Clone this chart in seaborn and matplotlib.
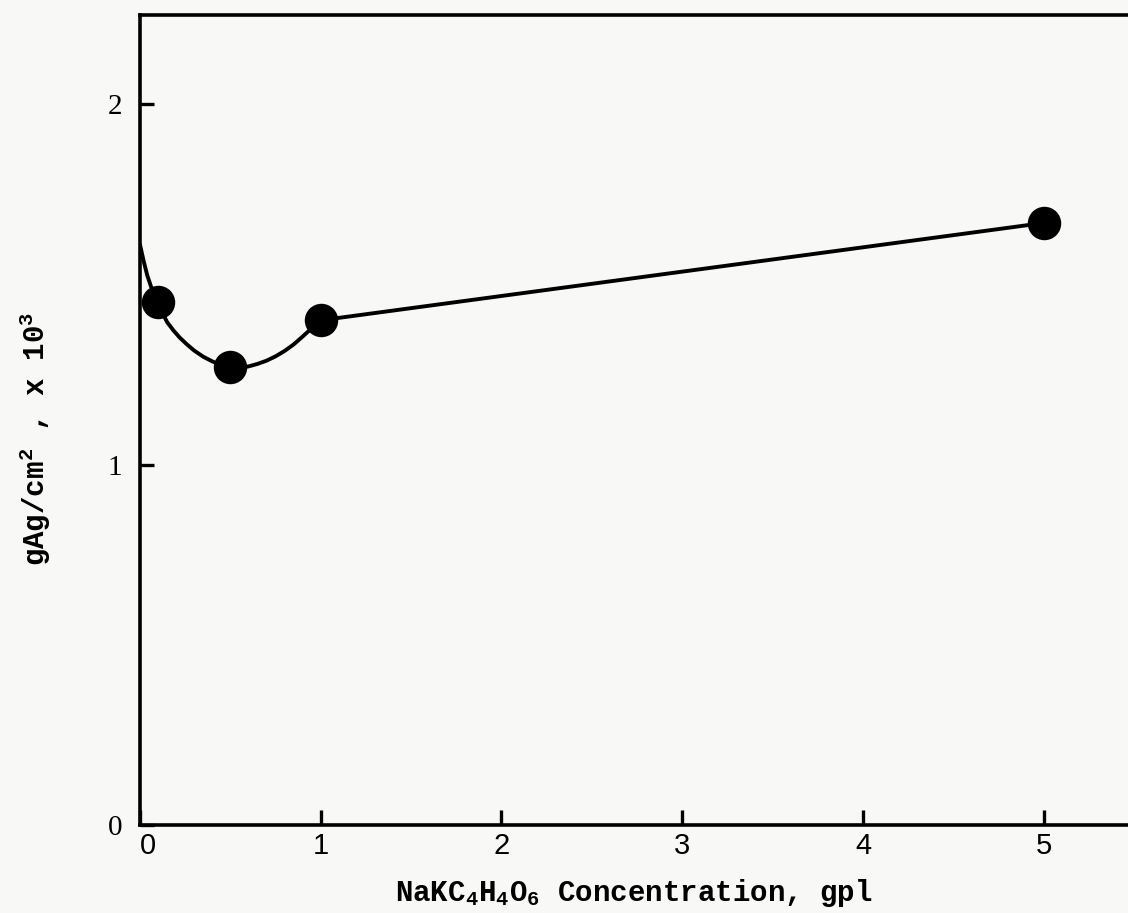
import matplotlib
matplotlib.use("Agg")
import matplotlib.pyplot as plt
import matplotlib.transforms as mtransforms
import seaborn as sns
import pandas as pd

# Measured points: NaKC4H4O6 concentration (gpl) vs silver deposit (g/cm^2 x 10^3)
conc = [0.1, 0.5, 1.0, 5.0]
deposit = [1.45, 1.27, 1.40, 1.67]

# Hand-drawn trend curve through the measurements
curve_conc = [0.0, 0.02, 0.04, 0.06, 0.08, 0.1, 0.125, 0.15, 0.185, 0.22, 0.26, 0.3,
              0.35, 0.4, 0.45, 0.5, 0.55, 0.6, 0.65, 0.7, 0.75, 0.8, 0.85, 0.9, 0.95,
              1.0, 5.0]
curve_dep = [1.61, 1.565, 1.525, 1.495, 1.47, 1.45, 1.42, 1.395, 1.372, 1.352, 1.333,
             1.316, 1.299, 1.286, 1.276, 1.27, 1.269, 1.272, 1.279, 1.288, 1.30, 1.315,
             1.333, 1.355, 1.378, 1.40, 1.67]

x_ticks = [0, 1, 2, 3, 4, 5]
y_ticks = [0, 1, 2]

sns.set_theme(style="ticks")
plt.rcParams["font.family"] = ["Liberation Mono", "DejaVu Sans"]
plt.rcParams["mathtext.default"] = "regular"

bg = "#f8f8f7"
fig = plt.figure(figsize=(11.28, 9.13), dpi=100, facecolor=bg)
ax = fig.add_axes([0.1241, 0.0964, 0.8759, 0.8872])
ax.set_facecolor(bg)

pts = pd.DataFrame({"conc": conc, "deposit": deposit})
crv = pd.DataFrame({"conc": curve_conc, "deposit": curve_dep})

sns.lineplot(data=crv, x="conc", y="deposit", sort=False, color="black",
             linewidth=2.8, ax=ax, zorder=2)
sns.scatterplot(data=pts, x="conc", y="deposit", color="black", s=580,
                edgecolor="black", linewidth=0, ax=ax, zorder=3)

ax.set_xlim(0, 5.466)
ax.set_ylim(0, 2.247)
ax.set_xticks(x_ticks)
ax.set_yticks(y_ticks)
ax.set_xticklabels([str(t) for t in x_ticks], family="Liberation Sans", fontsize=21)
ax.set_yticklabels([str(t) for t in y_ticks], family="Liberation Serif", fontsize=21)
ax.tick_params(axis="x", direction="in", length=11, width=2.4, pad=5, colors="black")
ax.tick_params(axis="y", direction="in", length=10, width=2.4, pad=13, colors="black")

# the zero label on the x axis sits slightly right of its tick
xl0 = ax.get_xticklabels()[0]
xl0.set_transform(xl0.get_transform() + mtransforms.ScaledTranslation(8 / 100, 0, fig.dpi_scale_trans))

for side in ["left", "bottom", "top"]:
    ax.spines[side].set_linewidth(2.6)
    ax.spines[side].set_color("black")
ax.spines["right"].set_visible(False)

ax.set_xlabel(r"NaKC$_4$H$_4$O$_6$ Concentration, gpl", fontsize=21, fontweight="bold",
              labelpad=12, color="black")
ax.set_ylabel(r"gAg/cm$^2$ , x 10$^3$", fontsize=21, fontweight="bold", color="black")
ax.yaxis.set_label_coords(-0.088, 0.477)

fig.savefig("out.png", dpi=100, facecolor=bg)
